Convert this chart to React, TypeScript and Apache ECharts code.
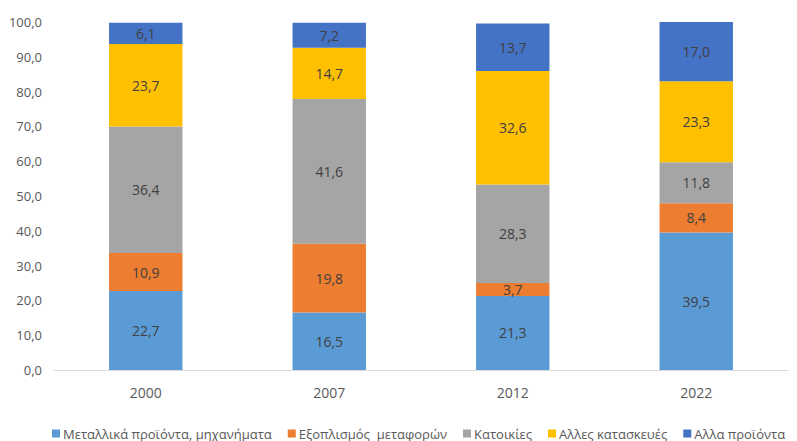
import React, { useEffect, useRef } from "react";
import * as echarts from "echarts";

const categories = ["2000", "2007", "2012", "2022"];
const seriesNames = [
  "Μεταλλικά προϊόντα, μηχανήματα",
  "Εξοπλισμός  μεταφορών",
  "Κατοικίες",
  "Αλλες κατασκευές",
  "Αλλα προϊόντα",
];
const metalValues = [22.7, 16.5, 21.3, 39.5];
const transportValues = [10.9, 19.8, 3.7, 8.4];
const housingValues = [36.4, 41.6, 28.3, 11.8];
const otherConstructionValues = [23.7, 14.7, 32.6, 23.3];
const otherProductsValues = [6.1, 7.2, 13.7, 17.0];
const colors = ["#5B9BD5", "#ED7D31", "#A5A5A5", "#FFC000", "#4472C4"];

const fmt = (v: number) => v.toFixed(1).replace(".", ",");
const FONT = "'Open Sans', 'Noto Sans', sans-serif";

export default function App() {
  const ref = useRef<HTMLDivElement>(null);
  useEffect(() => {
    if (!ref.current) return;
    const chart = echarts.init(ref.current, undefined, { renderer: "svg" });
    const allData = [metalValues, transportValues, housingValues, otherConstructionValues, otherProductsValues];
    chart.setOption({
      animation: false,
      textStyle: { fontFamily: FONT },
      grid: { left: 54, right: 9, top: 22, bottom: 71, containLabel: false },
      xAxis: {
        type: "category",
        data: categories,
        axisLine: { show: true, lineStyle: { color: "#D9D9D9", width: 1 } },
        axisTick: { show: false },
        axisLabel: { color: "#595959", fontSize: 14, margin: 15, fontFamily: FONT },
      },
      yAxis: {
        type: "value",
        min: 0,
        max: 100,
        interval: 10,
        axisLine: { show: false },
        axisTick: { show: false },
        splitLine: { show: false },
        axisLabel: { color: "#595959", fontSize: 13, margin: 12, fontFamily: FONT, formatter: (v: number) => fmt(v) },
      },
      legend: {
        top: 422,
        left: 47,
        itemWidth: 8,
        itemHeight: 8,
        itemGap: 16,
        icon: "rect",
        textStyle: { color: "#595959", fontSize: 13, fontFamily: FONT, padding: [0, 0, 0, -2] },
        data: seriesNames,
      },
      series: seriesNames.map((name, i) => ({
        name,
        type: "bar",
        stack: "total",
        barWidth: "40%",
        data: allData[i],
        itemStyle: { color: colors[i] },
        label: {
          show: true,
          position: "inside",
          color: "#404040",
          fontSize: 14,
          fontFamily: FONT,
          formatter: (p: any) => fmt(p.value),
        },
      })),
    });
    return () => chart.dispose();
  }, []);
  return <div ref={ref} style={{ width: 797, height: 441, position: "absolute", left: 0, top: 0 }} />;
}
